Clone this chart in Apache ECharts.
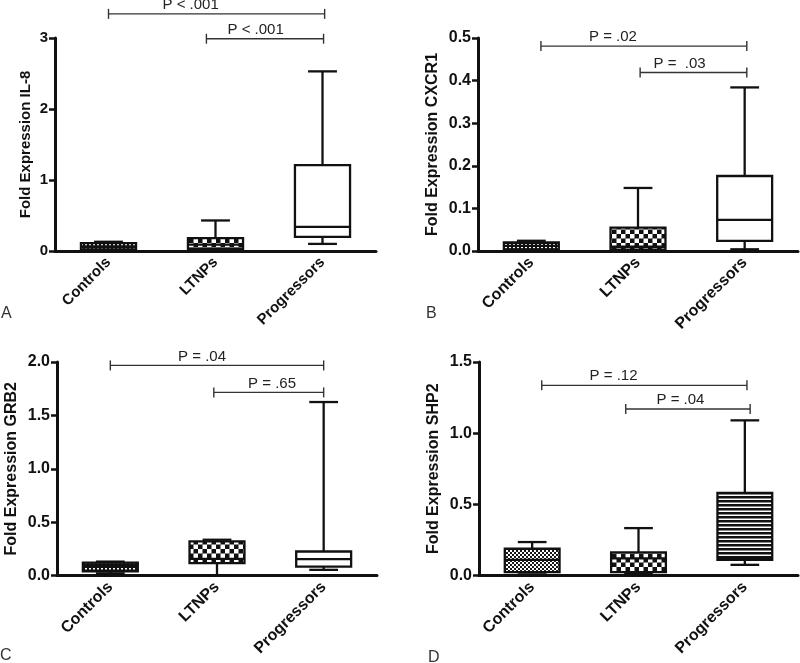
<!DOCTYPE html>
<html><head><meta charset="utf-8">
<script src="https://cdn.jsdelivr.net/npm/echarts@6/dist/echarts.min.js"></script>
<style>html,body{margin:0;padding:0;background:#fff}#c{width:800px;height:663px}</style>
</head><body><div id="c"></div>
<script>
// ---------------- DATA ----------------
const categories = ['Controls', 'LTNPs', 'Progressors'];
// five-number summaries: [min, Q1, median, Q3, max] for Controls, LTNPs, Progressors
const il8Values   = [[0.005, 0.02, 0.06, 0.11, 0.13], [0.01, 0.03, 0.09, 0.18, 0.43], [0.10, 0.20, 0.34, 1.21, 2.53]];
const cxcr1Values = [[0.001, 0.004, 0.012, 0.020, 0.024], [0.0, 0.003, 0.010, 0.055, 0.148], [0.004, 0.024, 0.073, 0.176, 0.384]];
const grb2Values  = [[0.02, 0.04, 0.09, 0.12, 0.13], [0.0, 0.116, 0.155, 0.32, 0.335], [0.053, 0.084, 0.153, 0.225, 1.625]];
const shp2Values  = [[0.02, 0.024, 0.11, 0.188, 0.235], [0.01, 0.024, 0.12, 0.162, 0.333], [0.075, 0.11, 0.12, 0.58, 1.09]];
// y tick labels
const il8Ticks   = [0, 1, 2, 3];
const cxcr1Ticks = [0, 0.1, 0.2, 0.3, 0.4, 0.5];
const grb2Ticks  = [0, 0.5, 1.0, 1.5, 2.0];
const shp2Ticks  = [0, 0.5, 1.0, 1.5];
// axis titles
const yNames = ['Fold Expression IL-8', 'Fold Expression CXCR1', 'Fold Expression GRB2', 'Fold Expression SHP2'];
// comparisons: [group A, group B]
const comparisons = [['Controls', 'Progressors'], ['LTNPs', 'Progressors']];
const il8P   = ['P < .001', 'P < .001'];
const cxcr1P = ['P = .02', 'P =  .03'];
const grb2P  = ['P = .04', 'P = .65'];
const shp2P  = ['P = .12', 'P = .04'];
const panelLetters = ['A', 'B', 'C', 'D'];

// ---------------- LAYOUT / STYLE ----------------
const FONT = '"Liberation Sans", Arial, Helvetica, sans-serif';
const panels = [
  {values: il8Values, ticks: il8Ticks, p: il8P, dec: 0, fs: 15, grid: {left: 55, top: 38, width: 321, height: 213}, nameGap: 22,
   levels: [3.34, 2.99], xAdj: [[0, 0.02], [-0.085, 0.01]], frac: [0.38, 0.42], patterns: ['dots', 'checker', 'open']},
  {values: cxcr1Values, ticks: cxcr1Ticks, p: cxcr1P, dec: 1, fs: 16, grid: {left: 478, top: 38, width: 320, height: 213}, nameGap: 37,
   levels: [0.481, 0.419], xAdj: [[0.09, 0.02], [0.02, 0.02]], frac: [0.35, 0.37], patterns: ['dots', 'checker', 'open']},
  {values: grb2Values, ticks: grb2Ticks, p: grb2P, dec: 1, fs: 16, grid: {left: 57, top: 362, width: 320, height: 213.5}, nameGap: 37,
   levels: [1.968, 1.715], xAdj: [[0, 0], [-0.03, 0]], frac: [0.43, 0.53], patterns: ['dots', 'checker', 'open']},
  {values: shp2Values, ticks: shp2Ticks, p: shp2P, dec: 1, fs: 16, grid: {left: 479, top: 362, width: 319, height: 213.5}, nameGap: 37,
   levels: [1.336, 1.170], xAdj: [[0.09, 0.02], [-0.12, 0.05]], frac: [0.35, 0.44], patterns: ['fine', 'checker', 'stripes']}
];

function makePattern(kind) {
  if (kind === 'open') return '#ffffff';
  const c = document.createElement('canvas');
  const ctx = c.getContext('2d');
  if (kind === 'dots') {
    c.width = 4; c.height = 3;
    ctx.fillStyle = '#111'; ctx.fillRect(0, 0, 4, 3);
    ctx.fillStyle = '#fff'; ctx.fillRect(1, 1, 2, 1.5);
  } else if (kind === 'fine') {
    c.width = 4; c.height = 4;
    ctx.fillStyle = '#1a1a1a'; ctx.fillRect(0, 0, 4, 4);
    ctx.fillStyle = '#fff'; ctx.fillRect(0, 0, 2, 2); ctx.fillRect(2, 2, 2, 2);
  } else if (kind === 'checker') {
    c.width = 9; c.height = 9;
    ctx.fillStyle = '#111'; ctx.fillRect(0, 0, 9, 9);
    ctx.fillStyle = '#fff'; ctx.fillRect(0, 0, 4.5, 4.5); ctx.fillRect(4.5, 4.5, 4.5, 4.5);
  } else if (kind === 'stripes') {
    c.width = 4; c.height = 4;
    ctx.fillStyle = '#111'; ctx.fillRect(0, 0, 4, 4);
    ctx.fillStyle = '#fff'; ctx.fillRect(0, 2.5, 4, 1.5);
  }
  return {image: c, repeat: 'repeat'};
}

const LINE = '#111';
function boxRenderer(pi) {
  const pats = panels[pi].patterns.map(makePattern);
  return function (params, api) {
    const xi = api.value(0);
    const pMin = api.coord([xi, api.value(1)]);
    const pQ1 = api.coord([xi, api.value(2)]);
    const pMed = api.coord([xi, api.value(3)]);
    const pQ3 = api.coord([xi, api.value(4)]);
    const pMax = api.coord([xi, api.value(5)]);
    const band = api.size([1, 0])[0];
    const bw = band * 0.515, cw = band * 0.27;
    const cx = pMed[0];
    const ls = {stroke: LINE, lineWidth: 2.3};
    return {type: 'group', children: [
      {type: 'line', shape: {x1: cx, y1: pMax[1], x2: cx, y2: pQ3[1]}, style: ls},
      {type: 'line', shape: {x1: cx - cw / 2, y1: pMax[1], x2: cx + cw / 2, y2: pMax[1]}, style: ls},
      {type: 'line', shape: {x1: cx, y1: pMin[1], x2: cx, y2: pQ1[1]}, style: ls},
      {type: 'line', shape: {x1: cx - cw / 2, y1: pMin[1], x2: cx + cw / 2, y2: pMin[1]}, style: ls},
      {type: 'rect', shape: {x: cx - bw / 2, y: pQ3[1], width: bw, height: pQ1[1] - pQ3[1]},
       style: {fill: pats[params.dataIndex], stroke: LINE, lineWidth: 2.3}},
      {type: 'line', shape: {x1: cx - bw / 2, y1: pMed[1], x2: cx + bw / 2, y2: pMed[1]}, style: ls}
    ]};
  };
}

function bracketRenderer(pi) {
  const P = panels[pi];
  return function (params, api) {
    const i = params.dataIndex;
    const from = categories.indexOf(comparisons[i][0]);
    const to = categories.indexOf(comparisons[i][1]);
    const lvl = api.value(1);
    const a = api.coord([from, lvl]);
    const b = api.coord([to, lvl]);
    const step = (b[0] - a[0]) / (to - from);
    const x1 = a[0] + P.xAdj[i][0] * step;
    const x2 = b[0] + P.xAdj[i][1] * step;
    const y = a[1];
    const tx = x1 + P.frac[i] * (x2 - x1);
    const st = {stroke: '#333', lineWidth: 1.4};
    return {type: 'group', children: [
      {type: 'line', shape: {x1: x1, y1: y, x2: x2, y2: y}, style: st},
      {type: 'line', shape: {x1: x1, y1: y - 5, x2: x1, y2: y + 5}, style: st},
      {type: 'line', shape: {x1: x2, y1: y - 5, x2: x2, y2: y + 5}, style: st},
      {type: 'text', style: {text: P.p[i], x: tx, y: y - 9, textAlign: 'center', textVerticalAlign: 'middle',
        font: '15px ' + FONT, fill: '#222'}}
    ]};
  };
}

const grids = [], xAxes = [], yAxes = [], series = [];
panels.forEach(function (P, pi) {
  grids.push(Object.assign({containLabel: false}, P.grid));
  xAxes.push({
    type: 'category', gridIndex: pi, data: categories,
    axisLine: {lineStyle: {color: LINE, width: 3}},
    axisTick: {alignWithLabel: true, length: 7, lineStyle: {color: LINE, width: 2.5}},
    axisLabel: {rotate: 45, margin: 9, color: '#111', fontWeight: 'bold', fontSize: P.fs, fontFamily: FONT},
    splitLine: {show: false}
  });
  const t = P.ticks;
  yAxes.push({
    type: 'value', gridIndex: pi, min: t[0], max: t[t.length - 1], interval: t[1] - t[0],
    name: yNames[pi], nameLocation: 'middle', nameRotate: 90, nameGap: P.nameGap,
    nameTextStyle: {color: '#111', fontWeight: 'bold', fontSize: P.fs, fontFamily: FONT},
    axisLine: {show: true, lineStyle: {color: LINE, width: 3}},
    axisTick: {show: true, length: 6, lineStyle: {color: LINE, width: 2.5}},
    axisLabel: {margin: 7, color: '#111', fontWeight: 'bold', fontSize: P.fs, fontFamily: FONT,
      formatter: function (v) { return v.toFixed(P.dec); }},
    splitLine: {show: false}
  });
  series.push({
    type: 'custom', xAxisIndex: pi, yAxisIndex: pi, clip: false, silent: true,
    renderItem: boxRenderer(pi),
    data: P.values.map(function (v, ci) { return [ci].concat(v); })
  });
  series.push({
    type: 'custom', xAxisIndex: pi, yAxisIndex: pi, clip: false, silent: true,
    renderItem: bracketRenderer(pi),
    data: P.levels.map(function (l) { return [0, l]; })
  });
});

const letterPos = [[1, 306], [426, 306], [0, 648], [428, 650]];
const chart = echarts.init(document.getElementById('c'), null, {renderer: 'canvas'});
chart.setOption({
  animation: false,
  backgroundColor: '#fff',
  grid: grids, xAxis: xAxes, yAxis: yAxes, series: series,
  graphic: panelLetters.map(function (L, i) {
    return {type: 'text', left: letterPos[i][0], top: letterPos[i][1],
      style: {text: L, font: '16px ' + FONT, fill: '#333'}};
  })
});
</script></body></html>
